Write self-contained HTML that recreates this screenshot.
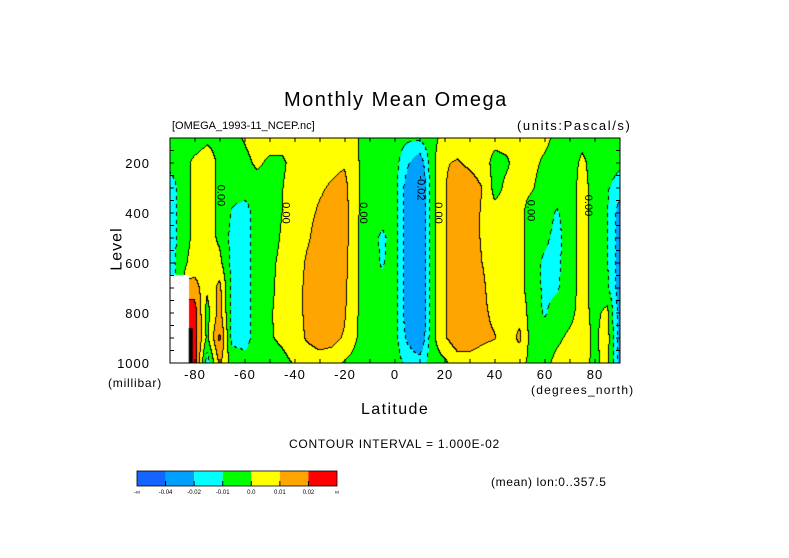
<!DOCTYPE html>
<html><head><meta charset="utf-8">
<style>
body{margin:0;background:#fff;}
#wrap{position:relative;width:789px;height:558px;overflow:hidden;background:#fff;font-family:"Liberation Sans",sans-serif;color:#000;}
.t{position:absolute;white-space:nowrap;}
</style></head>
<body>
<div id="wrap">
<div class="t" style="left:284px;top:89px;font-size:20px;letter-spacing:1.5px;">Monthly Mean Omega</div>
<div class="t" style="left:172px;top:120px;font-size:11px;">[OMEGA_1993-11_NCEP.nc]</div>
<div class="t" style="left:517px;top:118px;font-size:13px;letter-spacing:1.6px;">(units:Pascal/s)</div>
<canvas id="cv" width="450" height="225" style="position:absolute;left:170px;top:138px;"></canvas>
<svg id="ov" width="789" height="558" style="position:absolute;left:0;top:0;"></svg>
<div class="t" style="left:96px;top:240px;font-size:16px;letter-spacing:1px;transform:rotate(-90deg);">Level</div>
<div class="t" style="left:108px;top:376px;font-size:12px;letter-spacing:0.8px;">(millibar)</div>
<div class="t" style="left:531px;top:383px;font-size:12px;letter-spacing:1.2px;">(degrees_north)</div>
<div class="t" style="left:361px;top:401px;font-size:16px;letter-spacing:1.4px;">Latitude</div>
<div class="t" style="left:289px;top:437px;font-size:12px;letter-spacing:0.75px;">CONTOUR INTERVAL = 1.000E-02</div>
<div class="t" style="left:491px;top:475px;font-size:12px;letter-spacing:0.6px;">(mean) lon:0..357.5</div>
</div>
<script>
const latitudes=[-90,-85,-80,-75,-70,-65,-60,-55,-50,-45,-40,-35,-30,-25,-20,-15,-10,-5,0,5,10,15,20,25,30,35,40,45,50,55,60,65,70,75,80,85,90];
const levels=[100,200,300,400,500,600,700,800,900,1000];
const N=NaN;
// omega (units of 0.01 Pa/s), one column per latitude, values top (100mb) to bottom (1000mb)
const omegaByLat=[
[-0.3,-0.5,-1.8,-1.8,-1.8,-1.6,N,N,N,N],
[-0.4,-0.4,-0.4,-0.4,-0.4,-0.2,N,N,N,N],
[-0.5,0.2,0.2,0.2,0.2,0.3,1.5,2.5,2.5,2.5],
[-0.2,0.5,0.5,0.5,0.5,0.5,0.2,-0.4,-0.2,-1.5],
[-0.3,-0.2,-0.2,-0.2,-0.2,0.3,1.3,1.4,2.2,1.2],
[-0.3,-0.5,-0.6,-1.1,-1.3,-1.3,-1.3,-1.3,-1.3,-0.4],
[0.1,-0.3,-0.5,-1.5,-1.5,-1.5,-1.5,-1.5,-1.5,-0.5],
[0.5,0.2,-0.5,-0.5,-0.5,-0.5,-0.5,-0.5,-0.5,-0.3],
[0.5,-0.2,-0.5,-0.5,-0.4,-0.2,-0.2,-0.1,-0.1,-0.5],
[0.5,-0.2,-0.05,0.0,0.1,0.2,0.3,0.3,0.2,-0.3],
[0.6,0.4,0.6,0.6,0.6,0.6,0.6,0.6,0.6,0.1],
[0.6,0.6,0.7,0.8,0.9,1.1,1.2,1.2,1.1,0.5],
[0.6,0.7,0.9,1.1,1.3,1.4,1.5,1.5,1.4,0.6],
[0.6,0.8,1.1,1.3,1.4,1.5,1.5,1.5,1.3,0.5],
[0.5,0.9,1.3,1.4,1.4,1.3,1.2,1.1,0.9,-0.1],
[0.05,0.1,0.1,0.1,0.05,0.05,0.05,0.05,0.0,-0.4],
[-0.5,-0.5,-0.5,-0.5,-0.5,-0.5,-0.5,-0.5,-0.5,-0.5],
[-0.5,-0.5,-0.5,-0.6,-1.2,-1.1,-0.7,-0.5,-0.5,-0.5],
[-0.6,-0.6,-0.6,-0.6,-0.6,-0.6,-0.6,-0.6,-0.6,-0.6],
[-0.8,-1.8,-2.5,-2.6,-2.6,-2.6,-2.6,-2.6,-2.2,-1.2],
[-0.8,-2.8,-3.8,-3.8,-3.8,-3.8,-3.8,-3.8,-3.2,-1.5],
[-0.3,-0.3,-0.3,-0.3,-0.3,-0.3,-0.3,-0.3,-0.3,-0.5],
[0.3,0.9,0.9,0.9,0.9,0.9,0.9,0.9,0.9,-0.2],
[0.4,1.1,1.6,1.6,1.6,1.6,1.6,1.6,1.6,0.5],
[0.3,0.8,1.5,1.5,1.5,1.5,1.5,1.5,1.5,0.6],
[0.3,0.5,1.0,0.9,0.9,1.0,1.2,1.2,1.2,0.5],
[0.3,-0.3,-0.3,0.3,0.5,0.5,0.5,0.8,1.05,0.3],
[0.3,-0.1,0.2,0.4,0.4,0.4,0.4,0.5,0.5,0.3],
[0.5,0.4,0.3,0.3,0.3,0.3,0.3,0.7,1.2,0.3],
[0.5,0.3,0.1,-0.5,-0.5,-0.5,-0.5,-0.5,-0.5,-0.3],
[0.3,-0.2,-0.5,-0.6,-0.8,-1.2,-1.2,-1.1,-0.6,-0.3],
[-0.3,-0.5,-0.5,-1.1,-1.3,-1.2,-1.1,-0.6,-0.2,0.3],
[-0.5,-0.5,-0.5,-0.5,-0.5,-0.5,-0.5,-0.3,0.2,0.5],
[-0.3,0.2,0.4,0.4,0.4,0.4,0.4,0.4,0.5,0.5],
[-0.4,-0.4,-0.4,-0.4,-0.4,-0.4,-0.4,-0.3,-0.2,-0.3],
[-0.5,-0.5,-0.9,-0.9,-0.9,-0.9,-0.8,0.3,0.5,0.4],
[-0.5,-0.8,-1.5,-2.5,-2.5,-2.5,-2.5,-2.5,-2.5,-2.5]
];
const thresholds=[-4,-2,-1,0,1,2];
const levelColors=['#1464ff','#00a0ff','#00ffff','#00ff00','#ffff00','#ffa500','#ff0000'];
const colorbarLabels=['-\u221e','-0.04','-0.02','-0.01','0.0','0.01','0.02','\u221e'];
const xTickLabels=[-80,-60,-40,-20,0,20,40,60,80];
const yTickLabels=[200,400,600,800,1000];
const contourLabels=[{lat:-71,lev:330,t:'0.00'},{lat:-45,lev:400,t:'0.00'},{lat:-14,lev:400,t:'0.00'},{lat:16,lev:400,t:'0.00'},{lat:53,lev:390,t:'0.00'},{lat:76,lev:370,t:'0.00'},{lat:9,lev:300,t:'-0.02'}];

const PX=170,PY=138,PW=450,PH=225;
const latMin=-90,latMax=90,levMin=100,levMax=1000;
function xOf(lat){return PX+(lat-latMin)/(latMax-latMin)*PW;}
function yOf(lev){return PY+(lev-levMin)/(levMax-levMin)*PH;}
function latOfPx(px){return latMin+(px+0.5)/PW*(latMax-latMin);}
function levOfPx(py){return levMin+(py+0.5)/PH*(levMax-levMin);}

function fieldAt(lat,lev){
  let fi=(lat-latitudes[0])/(latitudes[1]-latitudes[0]);
  let fj=(lev-levels[0])/(levels[1]-levels[0]);
  fi=Math.max(0,Math.min(latitudes.length-1.0001,fi));
  fj=Math.max(0,Math.min(levels.length-1.0001,fj));
  const i=Math.floor(fi),j=Math.floor(fj),a=fi-i,b=fj-j;
  const ni=Math.round(fi),nj=Math.round(fj);
  if(isNaN(omegaByLat[ni][nj]))return NaN;
  const g=(ii,jj)=>{let v=omegaByLat[ii][jj];return isNaN(v)?omegaByLat[ni][nj]:v;};
  return (1-a)*(1-b)*g(i,j)+a*(1-b)*g(i+1,j)+(1-a)*b*g(i,j+1)+a*b*g(i+1,j+1);
}
function cls(v){if(isNaN(v))return -1;let c=0;while(c<thresholds.length&&v>=thresholds[c])c++;return c;}

const cv=document.getElementById('cv');const ctx=cv.getContext('2d');
const C=[];
for(let y=0;y<PH;y++){C[y]=[];for(let x=0;x<PW;x++){C[y][x]=cls(fieldAt(latOfPx(x),levOfPx(y)));}}
function hex(h){return[parseInt(h.substr(1,2),16),parseInt(h.substr(3,2),16),parseInt(h.substr(5,2),16)];}
const rgb=levelColors.map(hex);
const img=ctx.createImageData(PW,PH);
for(let y=0;y<PH;y++)for(let x=0;x<PW;x++){
  const k=(y*PW+x)*4;let c=C[y][x];let col=c<0?[255,255,255]:rgb[c];
  let line=false,neg=false;
  if(c>=0){
    const nb=[x+1<PW?C[y][x+1]:c,y+1<PH?C[y+1][x]:c];
    for(const d of nb){if(d>=0&&d!==c){line=true;const t=thresholds[Math.max(c,d)-1];if(t<0)neg=true;}}
  }
  if(line&&!(neg&&((x+y)>>2)%2))col=[0,0,0];
  img.data[k]=col[0];img.data[k+1]=col[1];img.data[k+2]=col[2];img.data[k+3]=255;
}
ctx.putImageData(img,0,0);
ctx.fillStyle='#000';ctx.fillRect(xOf(-82.5)-PX,yOf(860)-PY,4,yOf(1000)-yOf(860));

const ns='http://www.w3.org/2000/svg';const sv=document.getElementById('ov');
function mk(tag,attrs,txt){const e=document.createElementNS(ns,tag);for(const k in attrs)e.setAttribute(k,attrs[k]);if(txt!==undefined)e.textContent=txt;sv.appendChild(e);return e;}
let r=mk('rect',{x:PX,y:PY,width:PW,height:PH,fill:'none',stroke:'#000','stroke-width':1});


for(let lat=-80;lat<=80;lat+=10){
  const x=xOf(lat);
  let t=mk('line',{x1:x,y1:PY+PH,x2:x,y2:PY+PH-4,stroke:'#000'});
  
  
  mk('line',{x1:x,y1:PY,x2:x,y2:PY+4,stroke:'#000'});
}
for(let lev=100;lev<=1000;lev+=50){
  const y=yOf(lev);
  let t=mk('line',{x1:PX,y1:y,x2:PX+4,y2:y,stroke:'#000'});
  
  
  mk('line',{x1:PX+PW,y1:y,x2:PX+PW-4,y2:y,stroke:'#000'});
}
xTickLabels.forEach(v=>{
  let t=mk('text',{x:xOf(v),y:379,'font-size':13,'text-anchor':'middle','font-family':'Liberation Sans','letter-spacing':1},v);
  
  
});
yTickLabels.forEach(v=>{
  let t=mk('text',{x:150,y:yOf(v)+5,'font-size':13,'text-anchor':'end','font-family':'Liberation Sans','letter-spacing':1},v);
  
  
});
contourLabels.forEach(l=>{
  const x=xOf(l.lat),y=yOf(l.lev);
  let t=mk('text',{x:x,y:y,'font-size':11,'text-anchor':'middle','font-family':'Liberation Sans',transform:'rotate(90 '+x+' '+y+')'},l.t);
  
  
});
const cbX=137,cbY=471,cbW=200,cbH=15,seg=cbW/levelColors.length;
levelColors.forEach((c,i)=>{
  let b=mk('rect',{x:cbX+i*seg,y:cbY,width:seg,height:cbH,fill:c});
  
  
  if(i>0)mk('line',{x1:cbX+i*seg,y1:cbY+cbH-5,x2:cbX+i*seg,y2:cbY+cbH,stroke:'#000'});
});
mk('rect',{x:cbX,y:cbY,width:cbW,height:cbH,fill:'none',stroke:'#000','stroke-width':0.8});
colorbarLabels.forEach((s,i)=>{
  let t=mk('text',{x:cbX+i*seg,y:cbY+cbH+8,'font-size':6,'text-anchor':'middle','font-family':'Liberation Sans'},s);
  
  
});
</script>
</body></html>
